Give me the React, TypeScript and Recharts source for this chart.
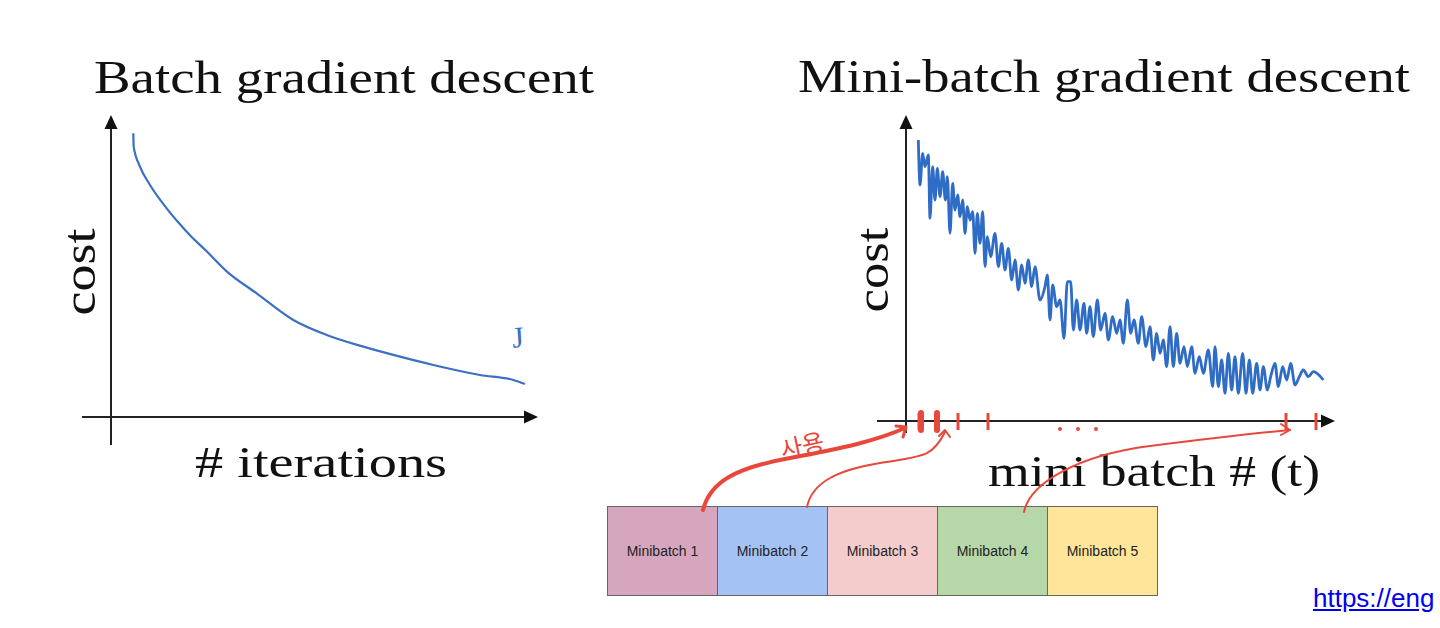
import * as React from "react";
import {
  LineChart,
  Line,
  XAxis,
  YAxis,
  ReferenceLine,
  ReferenceDot,
} from "recharts";

// batch gradient descent: iterations vs cost (arbitrary units)
const batchIter = [67, 68, 87, 117, 167, 207, 237, 287, 347, 437, 547, 647, 757, 867, 967, 1107, 1207, 1242];
const batchCost = [851, 811, 751, 696, 626, 578, 545, 497, 437, 371, 291, 246, 211, 181, 156, 126, 111, 99];

// mini-batch gradient descent: mini batch # (t) vs cost
const miniT = [
  37, 42, 50, 57, 67, 72, 80, 87, 94, 102, 110, 118, 124, 132, 140, 147, 155, 162, 170, 177,
  184, 192, 200, 207, 214, 222, 230, 237, 244, 254, 267, 277, 287, 297, 307, 317, 327, 337, 347, 357,
  367, 377, 387, 402, 417, 424, 432, 440, 452, 462, 474, 484, 494, 502, 512, 522, 534, 542, 552, 562,
  574, 584, 597, 607, 620, 632, 642, 652, 664, 674, 684, 697, 707, 720, 732, 742, 752, 762, 772, 782,
  792, 802, 812, 822, 834, 844, 857, 867, 880, 892, 907, 920, 927, 937, 947, 957, 967, 977, 987, 997,
  1010, 1020, 1030, 1040, 1052, 1062, 1072, 1084, 1094, 1107, 1117, 1130, 1142, 1154, 1167, 1180, 1192, 1207, 1222, 1252,
];
const miniCost = [
  843, 708, 803, 763, 798, 608, 763, 663, 758, 673, 748, 663, 733, 563, 713, 633, 678, 613, 663, 563,
  643, 603, 628, 503, 623, 533, 628, 463, 553, 493, 563, 463, 533, 453, 518, 423, 483, 393, 468, 413,
  483, 403, 463, 363, 403, 438, 303, 408, 343, 363, 248, 418, 418, 273, 363, 273, 353, 263, 343, 253,
  363, 273, 323, 243, 313, 263, 303, 233, 363, 263, 303, 233, 313, 223, 283, 183, 263, 203, 243, 163,
  283, 163, 263, 173, 223, 163, 223, 143, 193, 143, 213, 103, 223, 103, 183, 83, 203, 93, 193, 83,
  203, 83, 183, 83, 173, 93, 163, 93, 133, 173, 103, 163, 123, 173, 108, 133, 153, 133, 148, 123,
];

// red marks drawn on the mini-batch axis
const redTicks = [39, 156, 246, 1140, 1230];
const redThickTicks = [45, 93];
const redDots = [462, 516, 570];

const minibatches = ["Minibatch 1", "Minibatch 2", "Minibatch 3", "Minibatch 4", "Minibatch 5"];
const boxColors = ["#d5a6bd", "#a4c2f4", "#f4cccc", "#b6d7a8", "#ffe599"];

const batchData = batchIter.map((t, i) => ({ t, cost: batchCost[i] }));
const miniData = miniT.map((t, i) => ({ t, cost: miniCost[i] }));

const AXIS = "#222";
const RED = "#e8483b";
const SERIF = "'Liberation Serif', 'DejaVu Serif', serif";

const ArrowAxis = (props: any) => {
  const { x1, y1, x2, y2 } = props;
  const a = Math.atan2(y2 - y1, x2 - x1);
  const len = 14;
  const hw = 6.5;
  const bx = x2 - len * Math.cos(a);
  const by = y2 - len * Math.sin(a);
  const px = -Math.sin(a) * hw;
  const py = Math.cos(a) * hw;
  return (
    <g>
      <line x1={x1} y1={y1} x2={bx} y2={by} stroke={AXIS} strokeWidth={2} />
      <polygon points={`${x2},${y2} ${bx + px},${by + py} ${bx - px},${by - py}`} fill="#111" />
    </g>
  );
};

const App: React.FC = () => {
  return (
    <div
      style={{
        position: "absolute",
        left: 0,
        top: 0,
        width: 1440,
        height: 628,
        overflow: "hidden",
        background: "#fff",
      }}
    >
      {/* left: batch gradient descent */}
      <div style={{ position: "absolute", left: 78, top: 96 }}>
        <LineChart width={467} height={354} data={batchData} margin={{ top: 0, right: 0, bottom: 0, left: 0 }}>
          <XAxis dataKey="t" type="number" domain={[-99, 1302]} allowDataOverflow hide />
          <YAxis type="number" domain={[-99, 963]} allowDataOverflow hide />
          <ReferenceLine segment={[{ x: -87, y: 0 }, { x: 1281, y: 0 }]} shape={ArrowAxis} ifOverflow="visible" />
          <ReferenceLine segment={[{ x: 0, y: -84 }, { x: 0, y: 906 }]} shape={ArrowAxis} ifOverflow="visible" />
          <Line
            dataKey="cost"
            type="monotone"
            stroke="#3b70c2"
            strokeWidth={2.2}
            dot={false}
            isAnimationActive={false}
          />
        </LineChart>
      </div>

      {/* right: mini-batch gradient descent */}
      <div style={{ position: "absolute", left: 876, top: 101 }}>
        <LineChart width={460} height={340} data={miniData} margin={{ top: 0, right: 0, bottom: 0, left: 0 }}>
          <XAxis dataKey="t" type="number" domain={[-90, 1290]} allowDataOverflow hide />
          <YAxis type="number" domain={[-60, 960]} allowDataOverflow hide />
          <ReferenceLine segment={[{ x: -87, y: 0 }, { x: 1287, y: 0 }]} shape={ArrowAxis} ifOverflow="visible" />
          <ReferenceLine segment={[{ x: 0, y: -36 }, { x: 0, y: 918 }]} shape={ArrowAxis} ifOverflow="visible" />
          <Line
            dataKey="cost"
            type="monotone"
            stroke="#2f6cc6"
            strokeWidth={2.8}
            dot={false}
            isAnimationActive={false}
          />
          {redTicks.map((t) => (
            <ReferenceLine
              key={"rt" + t}
              segment={[{ x: t, y: -27 }, { x: t, y: 24 }]}
              stroke={RED}
              strokeWidth={3}
              ifOverflow="visible"
            />
          ))}
          {redThickTicks.map((t) => (
            <ReferenceLine
              key={"rk" + t}
              segment={[{ x: t, y: -27 }, { x: t, y: 24 }]}
              stroke={RED}
              strokeWidth={6}
              strokeLinecap="round"
              ifOverflow="visible"
            />
          ))}
          {redDots.map((t) => (
            <ReferenceDot key={"rd" + t} x={t} y={-24} r={2} fill={RED} stroke="none" ifOverflow="visible" />
          ))}
        </LineChart>
      </div>

      {/* minibatch boxes */}
      <div style={{ position: "absolute", left: 607, top: 506, display: "flex" }}>
        {minibatches.map((m, i) => (
          <div
            key={m}
            style={{
              width: 111,
              height: 90,
              boxSizing: "border-box",
              background: boxColors[i],
              border: "1px solid #666",
              marginLeft: i === 0 ? 0 : -1,
              display: "flex",
              alignItems: "center",
              justifyContent: "center",
              fontFamily: "'Liberation Sans', Arial, sans-serif",
              fontSize: 14,
              color: "#222",
            }}
          >
            {m}
          </div>
        ))}
      </div>

      {/* link */}
      <div
        style={{
          position: "absolute",
          left: 1313,
          top: 583,
          fontFamily: "'Liberation Sans', Arial, sans-serif",
          fontSize: 26,
          color: "#0000ee",
          textDecoration: "underline",
          whiteSpace: "nowrap",
        }}
      >
        https://eng
      </div>

      {/* text and red annotations */}
      <svg
        width={1440}
        height={628}
        style={{ position: "absolute", left: 0, top: 0, pointerEvents: "none" }}
      >
        <g fontFamily={SERIF} fill="#111">
          <text x={94} y={93} fontSize={46} textLength={500} lengthAdjust="spacingAndGlyphs">
            Batch gradient descent
          </text>
          <text x={798} y={92} fontSize={46} textLength={612} lengthAdjust="spacingAndGlyphs">
            Mini-batch gradient descent
          </text>
          <text
            x={95}
            y={272}
            fontSize={46}
            textAnchor="middle"
            textLength={87}
            lengthAdjust="spacingAndGlyphs"
            transform="rotate(-90 95 272)"
          >
            cost
          </text>
          <text
            x={888}
            y={270}
            fontSize={46}
            textAnchor="middle"
            textLength={85}
            lengthAdjust="spacingAndGlyphs"
            transform="rotate(-90 888 270)"
          >
            cost
          </text>
          <text x={195} y={477} fontSize={44} textLength={252} lengthAdjust="spacingAndGlyphs">
            # iterations
          </text>
          <text x={988} y={486} fontSize={44} textLength={332} lengthAdjust="spacingAndGlyphs">
            mini batch # (t)
          </text>
        </g>

        <text
          x={512}
          y={347}
          fontSize={30}
          fill="#3b70c2"
          fontFamily={SERIF}
          transform="rotate(-4 522 335)"
        >
          J
        </text>

        <g fill="none" stroke={RED} strokeLinecap="round" strokeLinejoin="round">
          <path d="M703,510 C710,482 735,468 790,458 S878,440 905,428" strokeWidth={4} />
          <path d="M896,426 L906,427 L903,437" strokeWidth={3} />
          <path d="M807,507 C812,482 838,470 880,463 S932,458 945,432" strokeWidth={2} />
          <path d="M939,436 L945,430 L950,437" strokeWidth={2} />
          <path d="M1024,512 C1030,482 1080,455 1150,446 S1258,433 1290,430" strokeWidth={2} />
          <path d="M1281,424 L1290,430 L1281,435" strokeWidth={2} />
        </g>
        <text
          x={780}
          y={455}
          fontSize={24}
          fill={RED}
          fontFamily="'Noto Sans CJK KR', sans-serif"
          transform="rotate(-12 800 445)"
        >
          사용
        </text>
      </svg>
    </div>
  );
};

export default App;
